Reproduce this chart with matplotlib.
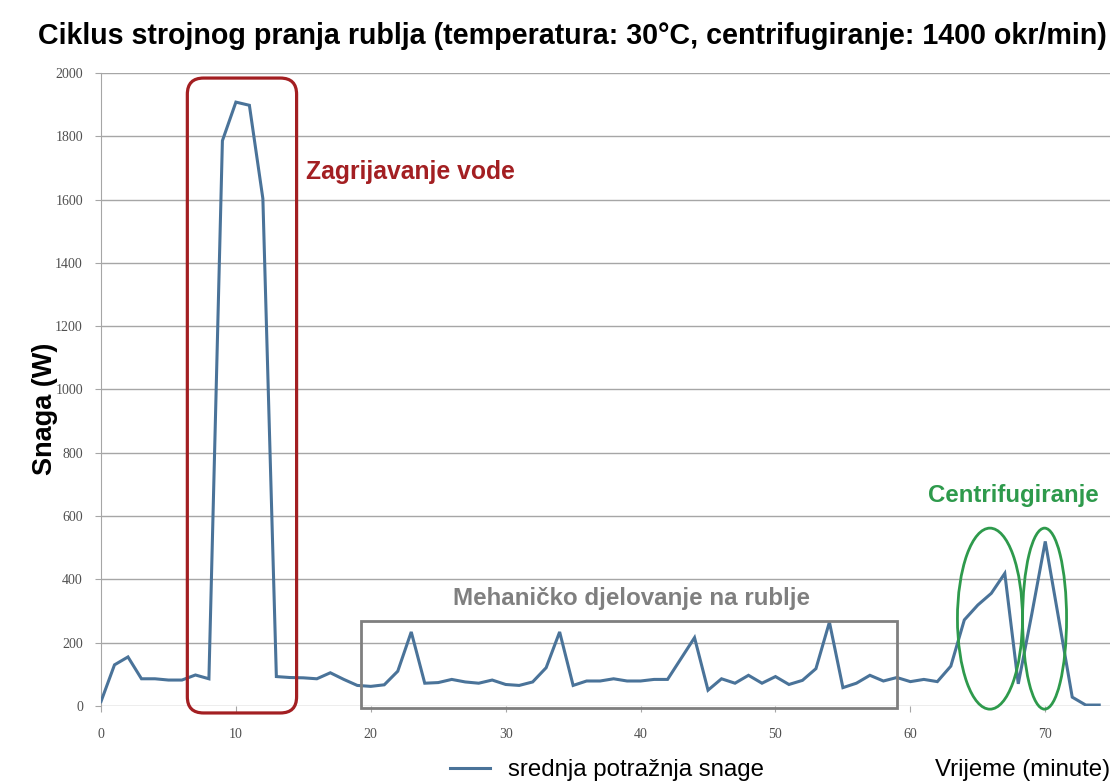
import numpy as np
import matplotlib
matplotlib.use("Agg")
import matplotlib.pyplot as plt
from matplotlib.patches import FancyBboxPatch, Rectangle, Ellipse

# average power per minute of the wash cycle
minutes = np.arange(0, 75)
power = [14, 130, 155, 86, 86, 82, 82, 98, 86, 1786,
         1908, 1898, 1603, 93, 90, 89, 86, 105, 84, 65,
         62, 67, 110, 234, 72, 74, 84, 76, 72, 82,
         68, 65, 76, 121, 234, 65, 79, 79, 86, 79,
         79, 84, 84, 150, 216, 50, 86, 72, 97, 72,
         93, 68, 81, 118, 265, 58, 72, 97, 79, 90,
         77, 84, 77, 126, 272, 319, 356, 419, 70, 290,
         520, 275, 28, 3, 3]

x_ticks = [0, 10, 20, 30, 40, 50, 60, 70]
y_ticks = list(range(0, 2001, 200))

title = "Ciklus strojnog pranja rublja (temperatura: 30°C, centrifugiranje: 1400 okr/min)"
series_label = "srednja potražnja snage"
heating_label = "Zagrijavanje vode"
wash_label = "Mehaničko djelovanje na rublje"
spin_label = "Centrifugiranje"

sans = "Liberation Sans"

fig = plt.figure(figsize=(11.15, 7.84), dpi=100)
ax = fig.add_axes([101 / 1115, 78 / 784, 1009 / 1115, 633 / 784])

ax.plot(minutes, power, color="#4a7399", lw=2.2, solid_joinstyle="miter", zorder=3)

ax.set_xlim(0, 74.8)
ax.set_ylim(0, 2000)
ax.set_xticks(x_ticks)
ax.set_yticks(y_ticks)
ax.grid(axis="y", color="#a6a6a6", lw=1)
ax.set_axisbelow(True)
for s in ("top", "right", "bottom"):
    ax.spines[s].set_visible(False)
ax.spines["left"].set_color("#a6a6a6")
ax.tick_params(axis="y", length=4, color="#a6a6a6", labelsize=10, labelcolor="#505050", pad=9)
ax.tick_params(axis="x", length=4, color="#a6a6a6", labelsize=10, labelcolor="#505050", pad=12)
for lab in ax.get_xticklabels() + ax.get_yticklabels():
    lab.set_family("Liberation Serif")

ax.set_ylabel("Snaga (W)", family=sans, fontweight="bold", fontsize=19.5)
ax.yaxis.set_label_coords(-0.043, 0.47)

fig.text(38 / 1115, 1 - 36 / 784, title, family=sans, fontweight="bold",
         fontsize=20.6, va="center", ha="left")
fig.text(1110 / 1115, 1 - 770 / 784, "Vrijeme (minute)", family=sans,
         fontsize=17.3, ha="right", va="center")

# water heating block
red = "#a31f22"
heat_box = FancyBboxPatch((6.4, -22), 8.1, 2006,
                          boxstyle="round,pad=0,rounding_size=1.2",
                          mutation_aspect=42.6, fill=False, ec=red, lw=2.3,
                          clip_on=False, zorder=4)
ax.add_patch(heat_box)
ax.text(15.2, 1687, heating_label, color=red, family=sans,
        fontweight="bold", fontsize=17.8, va="center", ha="left")

# mechanical action block
grey = "#7f7f7f"
ax.add_patch(Rectangle((19.3, -6), 39.7, 274, fill=False, ec=grey, lw=2,
                       clip_on=False, zorder=4))
ax.text(39.3, 341, wash_label, color=grey, family=sans,
        fontweight="bold", fontsize=17.4, va="center", ha="center")

# spin cycle
green = "#2e9a4c"
ax.add_patch(Ellipse((65.9, 276), 4.82, 572, fill=False, ec=green, lw=2,
                     clip_on=False, zorder=4))
ax.add_patch(Ellipse((69.95, 276), 3.26, 572, fill=False, ec=green, lw=2,
                     clip_on=False, zorder=4))
ax.text(67.6, 664, spin_label, color=green, family=sans,
        fontweight="bold", fontsize=17.3, va="center", ha="center")

ax.legend([series_label], loc="center",
          bbox_to_anchor=(607 / 1115, 1 - 770 / 784), bbox_transform=fig.transFigure,
          frameon=False, handlelength=1.65, handletextpad=0.75, borderaxespad=0,
          prop={"family": sans, "size": 17.3})

fig.savefig("out.png", dpi=100)
